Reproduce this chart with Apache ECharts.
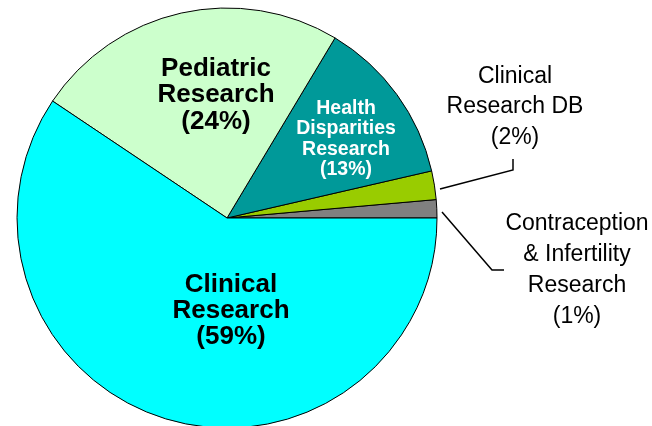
<!DOCTYPE html>
<html>
<head>
<meta charset="utf-8">
<title>Research funding pie</title>
<script src="https://cdn.jsdelivr.net/npm/echarts@6/dist/echarts.min.js"></script>
<style>
    html, body { margin: 0; padding: 0; background: #fff; }
    #chart { width: 652px; height: 426px; }
</style>
</head>
<body>
<div id="chart"></div>
<script>
// 数据 (逆时针从 3 点钟方向开始)
const sliceNames = [
    'Contraception\n& Infertility\nResearch',
    'Clinical\nResearch DB',
    'Health\nDisparities\nResearch',
    'Pediatric\nResearch',
    'Clinical\nResearch'
];
const sliceValues = [1.4, 2.2, 12.8, 24.2, 59.4];
const sliceColors = ['#808080', '#99cc00', '#009999', '#ccffcc', '#00ffff'];

// 标签样式 / 位置
const labelStyles = [
    { position: 'outside', color: '#000', fontWeight: 'normal', fontSize: 23, lineHeight: 31 },
    { position: 'outside', color: '#000', fontWeight: 'normal', fontSize: 23, lineHeight: 30.5 },
    { position: 'inside', color: '#fff', fontWeight: 'bold', fontSize: 19.5, lineHeight: 20.5 },
    { position: 'inside', color: '#000', fontWeight: 'bold', fontSize: 26, lineHeight: 26.5 },
    { position: 'inside', color: '#000', fontWeight: 'bold', fontSize: 26, lineHeight: 26 }
];
const labelPos = [[577, 270], [515, 107], [346, 139], [216, 95], [231, 311]];
const leaderPoints = [
    [[442, 212], [492, 270], [504, 270]],
    [[440, 189], [513, 170], [513, 159]],
    null, null, null
];

const chart = echarts.init(document.getElementById('chart'));

const option = {
    animation: false,
    series: [{
        type: 'pie',
        center: [227, 218],
        radius: 210,
        startAngle: 0,
        clockwise: false,
        avoidLabelOverlap: false,
        itemStyle: { borderColor: '#000', borderWidth: 1 },
        emphasis: { disabled: true },
        label: {
            fontFamily: '"Liberation Sans", Arial, sans-serif',
            align: 'center',
            formatter: p => p.name + '\n(' + Math.round(p.percent) + '%)'
        },
        labelLine: {
            show: true,
            lineStyle: { color: '#000', width: 1.5 }
        },
        labelLayout: function (params) {
            const i = params.dataIndex;
            const res = {
                x: labelPos[i][0],
                y: labelPos[i][1],
                align: 'center',
                verticalAlign: 'middle'
            };
            if (leaderPoints[i]) res.labelLinePoints = leaderPoints[i];
            return res;
        },
        data: sliceValues.map((v, i) => ({
            name: sliceNames[i],
            value: v,
            itemStyle: { color: sliceColors[i] },
            label: Object.assign({ show: true }, labelStyles[i]),
            labelLine: { show: labelStyles[i].position === 'outside' }
        }))
    }]
};

chart.setOption(option);
</script>
</body>
</html>
